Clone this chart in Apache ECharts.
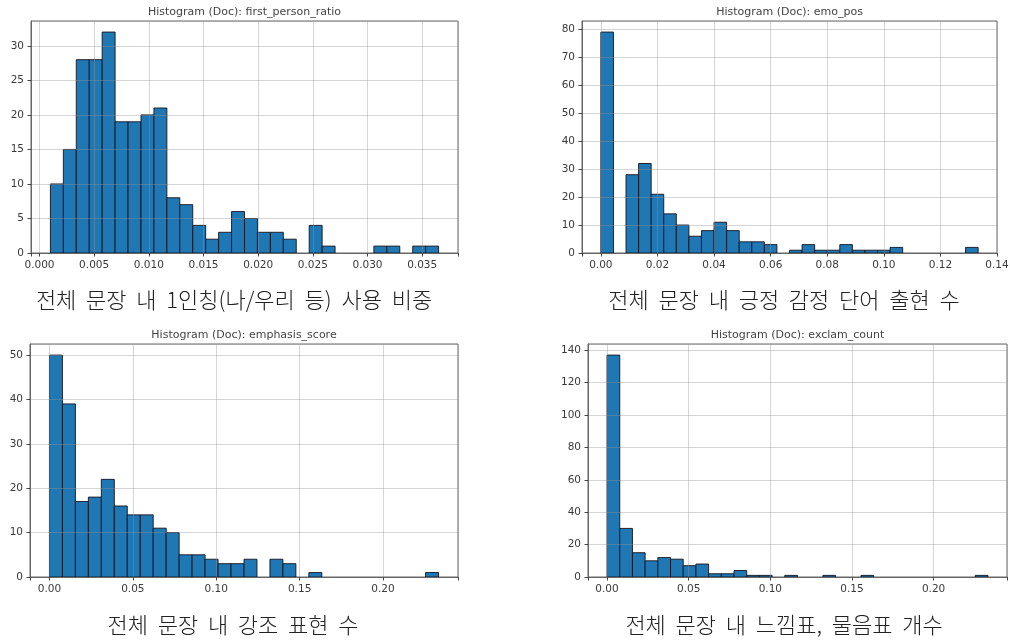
<!DOCTYPE html>
<html>
<head>
<meta charset="utf-8">
<script src="https://cdn.jsdelivr.net/npm/echarts@6/dist/echarts.min.js"></script>
<style>html,body{margin:0;padding:0;background:#fff}#c{width:1010px;height:640px}</style>
</head>
<body>
<div id="c"></div>
<script>
// ---- data ----
const titles = [
  'Histogram (Doc): first_person_ratio',
  'Histogram (Doc): emo_pos',
  'Histogram (Doc): emphasis_score',
  'Histogram (Doc): exclam_count'
];
const captions = [
  '전체 문장 내 1인칭(나/우리 등) 사용 비중',
  '전체 문장 내 긍정 감정 단어 출현 수',
  '전체 문장 내 강조 표현 수',
  '전체 문장 내 느낌표, 물음표 개수'
];
const firstPersonCounts = [10,15,28,28,32,19,19,20,21,8,7,4,2,3,6,5,3,3,2,0,4,1,0,0,0,1,1,0,1,1];
const firstPersonRange = [0.001, 0.0365];
const emoPosCounts = [79,0,28,32,21,14,10,6,8,11,8,4,4,3,0,1,3,1,1,3,1,1,1,2,0,0,0,0,0,2];
const emoPosRange = [0, 0.13333];
const emphasisCounts = [50,39,17,18,22,16,14,14,11,10,5,5,4,3,3,4,0,4,3,0,1,0,0,0,0,0,0,0,0,1];
const emphasisRange = [0, 0.2333];
const exclamCounts = [137,30,15,10,12,11,7,8,2,2,4,1,1,0,1,0,0,1,0,0,1,0,0,0,0,0,0,0,0,1];
const exclamRange = [0, 0.2333];
const xTickSteps = [0.005, 0.02, 0.05, 0.05];
const xTickDecimals = [3, 2, 2, 2];
const yTickSteps = [5, 10, 10, 20];

// ---- layout ----
const panels = [
  {left: 31, top: 21, width: 427, height: 232, titleY: 12, split: 7},
  {left: 582, top: 21, width: 415, height: 232, titleY: 12, split: 7},
  {left: 30, top: 344, width: 428, height: 233, titleY: 335, split: 5},
  {left: 588, top: 344, width: 419, height: 233, titleY: 335, split: 5}
];
const captionPos = [[234, 300], [784, 300], [233, 625], [784, 625]];

const allCounts = [firstPersonCounts, emoPosCounts, emphasisCounts, exclamCounts];
const allRanges = [firstPersonRange, emoPosRange, emphasisRange, exclamRange];

const labelColor = '#3a3a3a';
const frameColor = '#666';
const gridColor = 'rgba(150,150,150,0.4)';

function onStep(v, step) {
  const k = Math.round(v / step);
  return Math.abs(v - k * step) < step * 1e-3 ? k * step : null;
}

const grids = [], xAxes = [], yAxes = [], series = [], graphics = [];
panels.forEach((p, i) => {
  const counts = allCounts[i], range = allRanges[i];
  const span = range[1] - range[0];
  const xmin = range[0] - 0.05 * span, xmax = range[1] + 0.05 * span;
  const ymax = Math.max(...counts) * 1.05;
  grids.push({left: p.left, top: p.top, width: p.width, height: p.height,
    show: true, borderColor: frameColor, borderWidth: 1, backgroundColor: '#fff',
    containLabel: false, outerBoundsMode: 'none'});
  const xs = xTickSteps[i], xd = xTickDecimals[i];
  xAxes.push({type: 'value', gridIndex: i, min: xmin, max: xmax, splitNumber: p.split, z: 3,
    axisLine: {show: true, onZero: false, lineStyle: {color: frameColor, width: 1}},
    axisTick: {show: true, length: 3.5, lineStyle: {color: '#444', width: 1}},
    splitLine: {show: true, lineStyle: {color: gridColor, width: 1}},
    axisLabel: {show: true, color: labelColor, fontSize: 10.5, fontFamily: 'DejaVu Sans', margin: 7,
      showMaxLabel: true,
      formatter: v => { const s = onStep(v, xs); return s === null ? '' : s.toFixed(xd); }}
  });
  const ys = yTickSteps[i];
  yAxes.push({type: 'value', gridIndex: i, min: 0, max: ymax, interval: ys, z: 3,
    axisLine: {show: true, onZero: false, lineStyle: {color: frameColor, width: 1}},
    axisTick: {show: true, length: 3.5, lineStyle: {color: '#444', width: 1}},
    splitLine: {show: true, lineStyle: {color: gridColor, width: 1}},
    axisLabel: {show: true, color: labelColor, fontSize: 10.5, fontFamily: 'DejaVu Sans', margin: 7,
      showMaxLabel: false,
      formatter: v => { const s = onStep(v, ys); return s === null ? '' : String(Math.round(s)); }}
  });
  const w = span / counts.length;
  const data = counts.map((c, k) => [range[0] + k * w, range[0] + (k + 1) * w, c]);
  series.push({
    type: 'custom', xAxisIndex: i, yAxisIndex: i, z: 2, data: data,
    encode: {x: [0, 1], y: 2},
    renderItem: function (params, api) {
      const c = api.value(2);
      if (!c) return null;
      const p0 = api.coord([api.value(0), 0]);
      const p1 = api.coord([api.value(1), c]);
      return {type: 'rect',
        shape: {x: p0[0], y: p1[1], width: p1[0] - p0[0], height: p0[1] - p1[1]},
        style: {fill: '#1f77b4', stroke: '#14141e', lineWidth: 0.9}};
    }
  });
  graphics.push({type: 'text', x: p.left + p.width / 2, y: p.titleY, z: 10,
    style: {text: titles[i], fill: '#444', fontSize: 11, fontFamily: 'DejaVu Sans',
      textAlign: 'center', align: 'center', textVerticalAlign: 'middle', verticalAlign: 'middle'}});
  graphics.push({type: 'text', x: captionPos[i][0], y: captionPos[i][1], z: 10,
    style: {text: captions[i].split(' ').join('  '), fill: '#222', fontSize: 22, fontWeight: 300,
      fontFamily: 'Noto Sans CJK KR',
      textAlign: 'center', align: 'center', textVerticalAlign: 'middle', verticalAlign: 'middle'}});
});

const chart = echarts.init(document.getElementById('c'), null, {renderer: 'canvas'});
chart.setOption({
  animation: false,
  backgroundColor: '#fff',
  grid: grids, xAxis: xAxes, yAxis: yAxes, series: series, graphic: graphics
});
</script>
</body>
</html>
